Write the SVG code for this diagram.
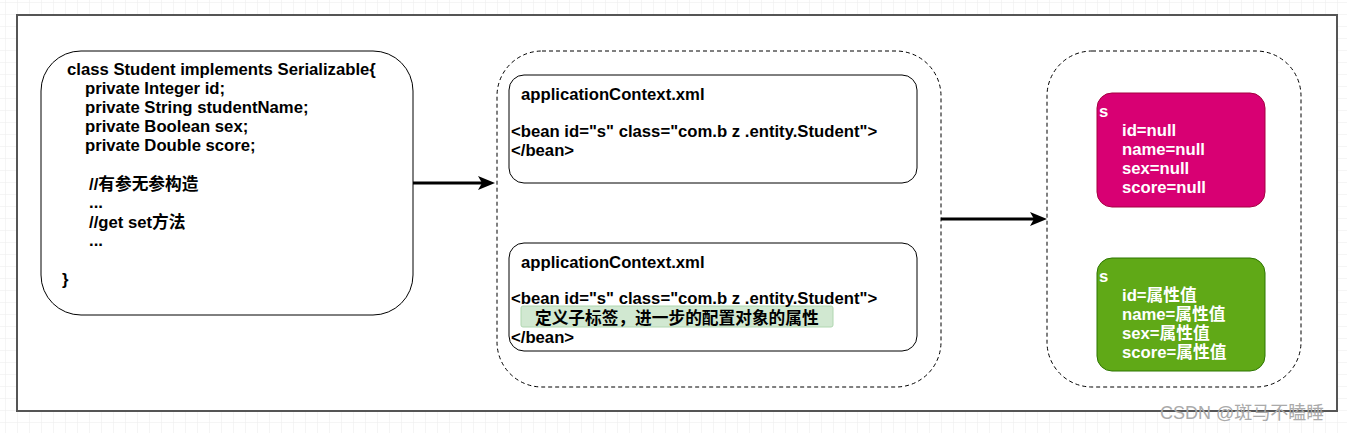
<svg xmlns="http://www.w3.org/2000/svg" width="1347" height="433" viewBox="0 0 1347 433">
<defs>
<pattern id="grid" x="5" y="2" width="12" height="12" patternUnits="userSpaceOnUse">
<path d="M0 0H12M0 0V12" fill="none" stroke="#ececec" stroke-width="1"/>
</pattern>
<style>
.t{font-family:"Liberation Sans",Arial,"Noto Sans CJK SC",sans-serif;font-weight:bold;font-size:16.7px;fill:#000}
.w{fill:#fff}
.box{fill:#fff;stroke:#000;stroke-width:1}
.dash{fill:#fff;stroke:#000;stroke-width:1;stroke-dasharray:4 3}
.arr{stroke:#000;stroke-width:3;fill:none}
.head{fill:#000}
</style>
</defs>
<rect width="1347" height="433" fill="#fff"/>
<rect width="1347" height="433" fill="url(#grid)"/>
<rect x="17" y="15" width="1320" height="396" fill="#fff" stroke="#555" stroke-width="2"/>
<g id="connectors">
<line class="arr" x1="413" y1="183" x2="484" y2="183"/>
<path class="head" d="M478 176L495 183L478 190L482 183Z"/>
<line class="arr" x1="941" y1="219" x2="1036" y2="219"/>
<path class="head" d="M1030 212L1047 219L1030 226L1034 219Z"/>
</g>
<g id="student-class">
<rect class="box" x="41" y="51" width="372" height="264" rx="40"/>
<text class="t" x="67" y="75">class Student implements Serializable{</text>
<text class="t" x="85" y="94">private Integer id;</text>
<text class="t" x="85" y="113">private String studentName;</text>
<text class="t" x="85" y="132">private Boolean sex;</text>
<text class="t" x="85" y="151">private Double score;</text>
<text class="t" x="89" y="190">//有参无参构造</text>
<text class="t" x="89" y="208">...</text>
<text class="t" x="89" y="228">//get set方法</text>
<text class="t" x="89" y="246">...</text>
<text class="t" x="62" y="285">}</text>
</g>
<g id="xml-container">
<rect class="dash" x="497" y="51" width="444" height="336" rx="45"/>
</g>
<g id="xml-1">
<rect class="box" x="509" y="75" width="408" height="108" rx="15"/>
<text class="t" x="521" y="100">applicationContext.xml</text>
<text class="t" x="511" y="137">&lt;bean id="s" class="com.b z .entity.Student"&gt;</text>
<text class="t" x="511" y="156">&lt;/bean&gt;</text>
</g>
<g id="xml-2">
<rect class="box" x="509" y="243" width="408" height="108" rx="15"/>
<text class="t" x="521" y="268">applicationContext.xml</text>
<rect x="521" y="306" width="312" height="21" rx="2" fill="#cde6cd" stroke="#a8d3a8" stroke-width="1" opacity="0.9"/>
<text class="t" x="511" y="304">&lt;bean id="s" class="com.b z .entity.Student"&gt;</text>
<text class="t" x="535" y="324">定义子标签，进一步的配置对象的属性</text>
<text class="t" x="511" y="343">&lt;/bean&gt;</text>
</g>
<g id="object-container">
<rect class="dash" x="1047" y="51" width="254" height="336" rx="45"/>
</g>
<g id="obj-null">
<rect x="1097" y="93" width="168" height="114" rx="15" fill="#d80073" stroke="#a50040" stroke-width="1"/>
<text class="t w" x="1099" y="117">s</text>
<text class="t w" x="1122" y="136">id=null</text>
<text class="t w" x="1122" y="155">name=null</text>
<text class="t w" x="1122" y="174">sex=null</text>
<text class="t w" x="1122" y="193">score=null</text>
</g>
<g id="obj-set">
<rect x="1097" y="258" width="168" height="113" rx="15" fill="#60a917" stroke="#2d7600" stroke-width="1"/>
<text class="t w" x="1099" y="282">s</text>
<text class="t w" x="1122" y="301">id=属性值</text>
<text class="t w" x="1122" y="320">name=属性值</text>
<text class="t w" x="1122" y="339">sex=属性值</text>
<text class="t w" x="1122" y="358">score=属性值</text>
</g>
<text x="1160" y="419" font-family="'Liberation Sans',Arial,'Noto Sans CJK SC',sans-serif" font-size="18" fill="#aaa">CSDN @斑马不瞌睡</text>
</svg>
